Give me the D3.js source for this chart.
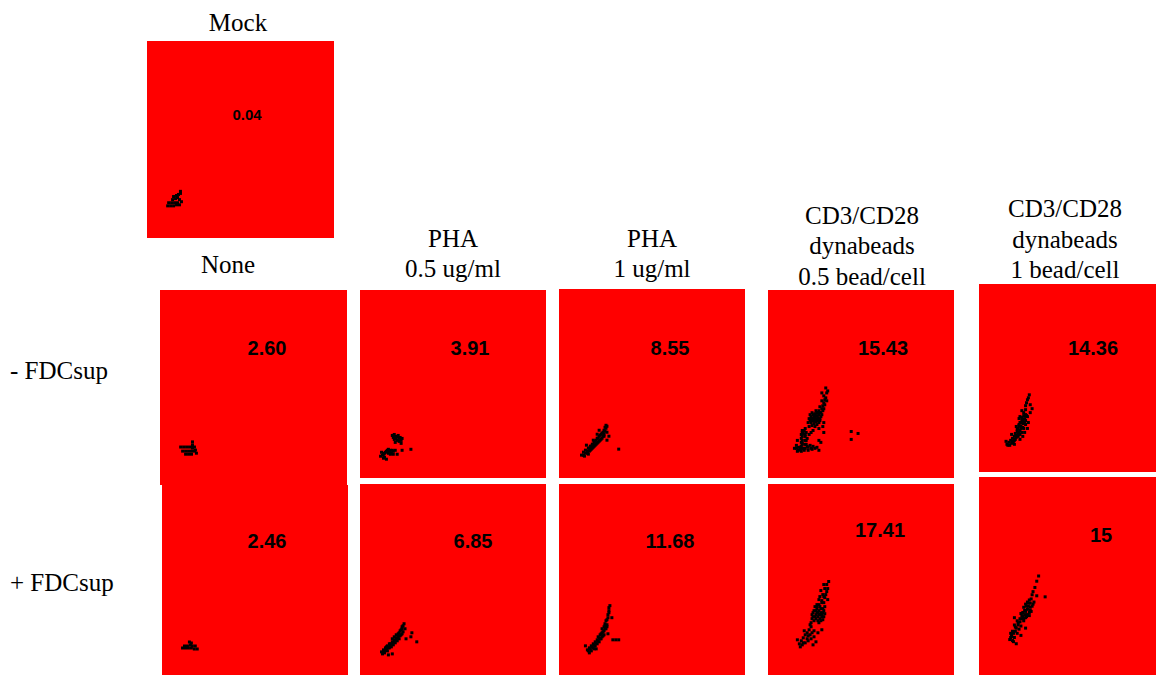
<!DOCTYPE html>
<html>
<head>
<meta charset="utf-8">
<script src="https://cdn.jsdelivr.net/npm/d3@7/dist/d3.min.js"></script>
<style>
  html, body { margin: 0; padding: 0; background: #fff; }
  svg { display: block; }
</style>
</head>
<body>
<svg id="chart" width="1156" height="675"></svg>
<script>
// ---- data -------------------------------------------------------------
const conditions = [
  ["None"],
  ["PHA", "0.5 ug/ml"],
  ["PHA", "1 ug/ml"],
  ["CD3/CD28", "dynabeads", "0.5 bead/cell"],
  ["CD3/CD28", "dynabeads", "1 bead/cell"]
];
const rowLabels = ["- FDCsup", "+ FDCsup"];
const mockLabel = "Mock";
const mockPct = "0.04";
const minusPct = ["2.60", "3.91", "8.55", "15.43", "14.36"];
const plusPct = ["2.46", "6.85", "11.68", "17.41", "15"];

// gated events per panel, [x channel, y channel] on a 0-190 scale
const mockEvents = [[21,31],[24,31],[27,31],[30,32],[22,34],[25,34],[28,34],[26,37],[29,38],[31,39],[27,40],[30,41],[32,42],[34,43],[33,37],[35,35],[31,34],[33,32],[34,45]];

const minusEvents = [
  // None
  [[21,37],[24,37],[27,37],[30,37],[33,37],[35,37],[23,33],[26,33],[29,33],[32,33],[35,33],[26,30],[29,30],[32,30],[33,42],[33,39],[33,36],[36,34],[37,31]],
  // PHA 0.5 ug/ml
  [[33,43],[36,42],[39,43],[41,41],[35,39],[38,38],[40,37],[42,35],[36,36],[43,40],[21,22],[24,24],[26,26],[28,28],[30,27],[33,28],[36,28],[25,21],[29,25],[22,26],[27,19],[43,28],[52,29],[31,24],[34,24],[38,24],
   [34,41],[37,40],[40,40],[42,38],[38,42],[35,44],[23,23],[25,25],[27,27],[29,29],[31,28],[34,27],[32,25],[24,20]],
  // PHA 1 ug/ml
  [[23,23],[25,26],[26,22],[27,28],[29,25],[30,30],[31,27],[32,32],[33,29],[34,34],[35,31],[36,36],[37,33],[38,38],[39,35],[40,40],[41,37],[42,43],[43,39],[44,45],[45,42],[46,48],[47,51],[48,53],[46,44],[49,46],[51,42],[49,38],[61,29],[30,24],[28,33],[35,38],[39,44],[41,48],
   [32,28],[34,30],[36,32],[38,34],[40,36],[42,38],[44,40],[46,42],[45,46],[43,44],[41,42],[39,40],[37,37],[35,34],[33,32],[31,30],[29,27],[27,25],[25,23],[47,47],[48,50],[49,52]],
  // CD3/CD28 0.5 bead/cell
  [[27,30],[29,33],[31,28],[33,31],[35,35],[36,30],[34,40],[36,45],[35,48],[38,42],[39,38],[37,28],[40,32],[43,33],[45,29],[48,30],[50,31],[52,28],[42,52],[44,56],[46,60],[48,63],[50,66],[52,68],[54,62],[53,58],[51,61],[56,73],[57,76],[59,81],[60,86],[59,91],[55,78],[57,70],[54,66],[49,57],[47,55],[45,53],[52,50],[56,52],[57,46],[54,36],[52,38],[57,56],[85,47],[85,39],[92,45],[30,38],[38,50],[42,60],[44,62],[46,64],[48,65],[50,63],[52,64],[45,66],[49,68],[47,60],[34,32],[34,36],[34,44],[39,34],[39,46],
   [43,58],[45,58],[47,58],[49,58],[51,58],[53,60],[43,64],[47,62],[51,66],[53,66],[41,56],[44,60],[50,60],[48,61],
   [35,30],[35,34],[35,38],[35,42],[35,46],[38,30],[38,34],[38,38],[38,44],[37,48],
   [29,30],[31,31],[33,29],[41,31],[44,30],[46,32],[30,27],[34,27],[41,28],
   [55,70],[56,68],[58,74],[58,79],[57,83],[60,78],[53,72],[55,64],[52,56],[50,54],[48,52],[46,48],[44,46],[42,44],[40,40],[55,86],[61,88]],
  // CD3/CD28 1 bead/cell
  [[30,28],[32,30],[33,27],[34,32],[36,30],[36,34],[38,32],[38,36],[39,39],[40,35],[41,41],[42,38],[42,44],[43,47],[44,42],[44,50],[45,46],[46,52],[46,55],[47,49],[48,57],[48,60],[49,54],[50,63],[50,67],[51,70],[52,73],[53,75],[55,68],[55,60],[53,50],[52,44],[49,40],[47,36],[44,33],[38,28],[35,38],[40,46],[43,54],[46,62],[54,78],[57,64],[51,57],
   [40,37],[42,36],[44,38],[46,40],[48,44],[50,48],[41,43],[43,40],[45,44],[47,45],[49,50],[47,53],[45,50],[43,48],[44,56],[48,50],[50,52],[52,56],[50,58],[39,33],[37,31],[35,29],[31,27],[29,31]]
];

const plusEvents = [
  // None
  [[28,33],[30,32],[29,30],[21,27],[24,27],[27,27],[30,27],[33,26],[36,26],[23,29],[26,29],[34,29],[31,29]],
  // PHA 0.5 ug/ml
  [[22,23],[24,25],[25,22],[26,27],[28,24],[28,29],[30,27],[31,31],[32,28],[33,33],[34,30],[35,35],[36,32],[37,37],[38,34],[39,39],[40,36],[40,42],[42,40],[42,45],[43,48],[44,43],[45,51],[46,46],[29,20],[33,21],[53,42],[52,38],[58,33],[47,36],
   [23,21],[25,24],[27,25],[29,27],[31,29],[33,31],[35,33],[37,35],[39,37],[41,39],[43,41],[41,44],[39,41],[37,40],[35,38],[33,36],[30,31],[27,28],[43,46],[44,49]],
  // PHA 1 ug/ml
  [[29,25],[31,27],[33,24],[33,29],[35,27],[35,31],[37,29],[37,33],[39,31],[39,35],[40,38],[41,33],[42,40],[43,36],[44,42],[44,46],[45,39],[46,44],[46,48],[47,51],[48,46],[48,54],[49,50],[50,57],[51,62],[51,67],[52,69],[54,57],[55,35],[58,35],[61,35],[50,41],[27,29],[31,22],[38,26],
   [34,28],[36,30],[38,32],[40,34],[42,36],[44,38],[46,40],[45,43],[43,41],[41,37],[47,46],[49,48],[47,49],[49,55],[50,60],[51,64],[36,26],[32,26],[30,24]],
  // CD3/CD28 0.5 bead/cell
  [[62,93],[58,86],[60,83],[56,80],[58,77],[55,74],[61,75],[48,68],[50,66],[52,64],[54,62],[46,62],[49,60],[51,58],[53,56],[55,60],[57,64],[45,56],[47,54],[52,52],[56,55],[58,68],[50,70],[44,48],[42,45],[40,42],[38,40],[36,37],[34,34],[32,31],[33,28],[35,30],[38,32],[41,34],[44,36],[47,38],[49,33],[46,30],[30,35],[37,44],[43,40],[51,42],[55,45],
   [45,60],[47,64],[49,64],[51,62],[53,60],[55,58],[57,58],[49,56],[51,54],[54,54],[50,68],[52,70],[54,66],[56,66],[48,58],[46,58],[44,52],[43,50],[56,62],[58,61],[52,60],[50,62],[53,68],[55,72],[57,72],[57,78],[59,80],[61,86],[60,90],[47,44],[45,42],[40,36],[36,32],[41,39],[57,90],[54,84],[53,78],[52,75]],
  // CD3/CD28 1 bead/cell
  [[33,34],[35,37],[36,33],[37,40],[38,36],[39,42],[40,45],[41,40],[42,48],[43,44],[44,51],[45,47],[46,54],[47,56],[48,52],[49,58],[50,61],[51,56],[52,63],[53,66],[54,60],[55,69],[56,73],[57,77],[58,80],[60,84],[62,90],[64,95],[59,70],[62,76],[71,75],[38,55],[48,65],[55,62],[45,59],[41,52],[50,45],[45,38],[40,30],[37,32],[34,40],
   [48,54],[50,55],[52,58],[54,57],[56,61],[55,65],[53,69],[51,66],[49,62],[47,60],[50,68],[52,70],[54,72],[57,66],[58,68],[46,57],[44,54],[42,50],[39,46],[36,42],[35,39],[34,36],[38,48]]
];

const channelDomain = [0, 190];

// ---- layout -----------------------------------------------------------
const mockBox = { x: 147, y: 41, w: 187, h: 197, title: [238, 31], pct: [247, 120], pctSize: 15 };
const boxes = [
  [ // - FDCsup
    { x: 160, y: 290, w: 187, h: 195, pct: [267, 355] },
    { x: 360, y: 290, w: 186, h: 188, pct: [470, 355] },
    { x: 559, y: 289, w: 186, h: 189, pct: [670, 355] },
    { x: 768, y: 290, w: 186, h: 188, pct: [883, 355] },
    { x: 979, y: 284, w: 177, h: 188, pct: [1093, 355] }
  ],
  [ // + FDCsup
    { x: 162, y: 485, w: 186, h: 190, pct: [267, 548] },
    { x: 360, y: 484, w: 186, h: 191, pct: [473, 548] },
    { x: 559, y: 484, w: 186, h: 191, pct: [670, 548] },
    { x: 768, y: 484, w: 186, h: 191, pct: [880, 537] },
    { x: 979, y: 477, w: 177, h: 198, pct: [1101, 542] }
  ]
];
const headerPos = [
  { cx: 228, base: [273] },
  { cx: 453, base: [247, 277] },
  { cx: 652, base: [247, 277] },
  { cx: 862, base: [224, 254, 285] },
  { cx: 1065, base: [217, 248, 278] }
];
const rowLabelPos = [[10, 379], [10, 591]];

const serif = "'Liberation Serif', 'Times New Roman', serif";
const sans = "'Liberation Sans', Arial, sans-serif";
const panelRed = "#ff0000";
const dotSize = 3;

const svg = d3.select("#chart");

function drawPanel(box, events, pctText, pctSize) {
  const g = svg.append("g").attr("transform", `translate(${box.x},${box.y})`);
  const x = d3.scaleLinear().domain(channelDomain).range([0, box.w]);
  const y = d3.scaleLinear().domain(channelDomain).range([box.h, 0]);
  g.append("rect")
    .attr("width", box.w).attr("height", box.h)
    .attr("fill", panelRed);
  g.selectAll("rect.event")
    .data(events)
    .join("rect")
    .attr("class", "event")
    .attr("x", d => x(d[0]) - dotSize / 2)
    .attr("y", d => y(d[1]) - dotSize / 2)
    .attr("width", dotSize).attr("height", dotSize)
    .attr("fill", "#000");
  svg.append("text")
    .attr("x", box.pct[0]).attr("y", box.pct[1])
    .attr("text-anchor", "middle")
    .attr("font-family", sans).attr("font-weight", "bold")
    .attr("font-size", pctSize)
    .attr("fill", "#000")
    .text(pctText);
}

// Mock control
drawPanel(mockBox, mockEvents, mockPct, mockBox.pctSize);
svg.append("text")
  .attr("x", mockBox.title[0]).attr("y", mockBox.title[1])
  .attr("text-anchor", "middle")
  .attr("font-family", serif).attr("font-size", 25)
  .text(mockLabel);

// stimulation grid
[minusEvents, plusEvents].forEach((rowEvents, r) => {
  const pcts = r === 0 ? minusPct : plusPct;
  rowEvents.forEach((ev, c) => drawPanel(boxes[r][c], ev, pcts[c], 20));
});

// column headers
conditions.forEach((lines, c) => {
  lines.forEach((line, i) => {
    svg.append("text")
      .attr("x", headerPos[c].cx).attr("y", headerPos[c].base[i])
      .attr("text-anchor", "middle")
      .attr("font-family", serif).attr("font-size", 25)
      .text(line);
  });
});

// row labels
rowLabels.forEach((lab, r) => {
  svg.append("text")
    .attr("x", rowLabelPos[r][0]).attr("y", rowLabelPos[r][1])
    .attr("font-family", serif).attr("font-size", 25)
    .text(lab);
});
</script>
</body>
</html>
